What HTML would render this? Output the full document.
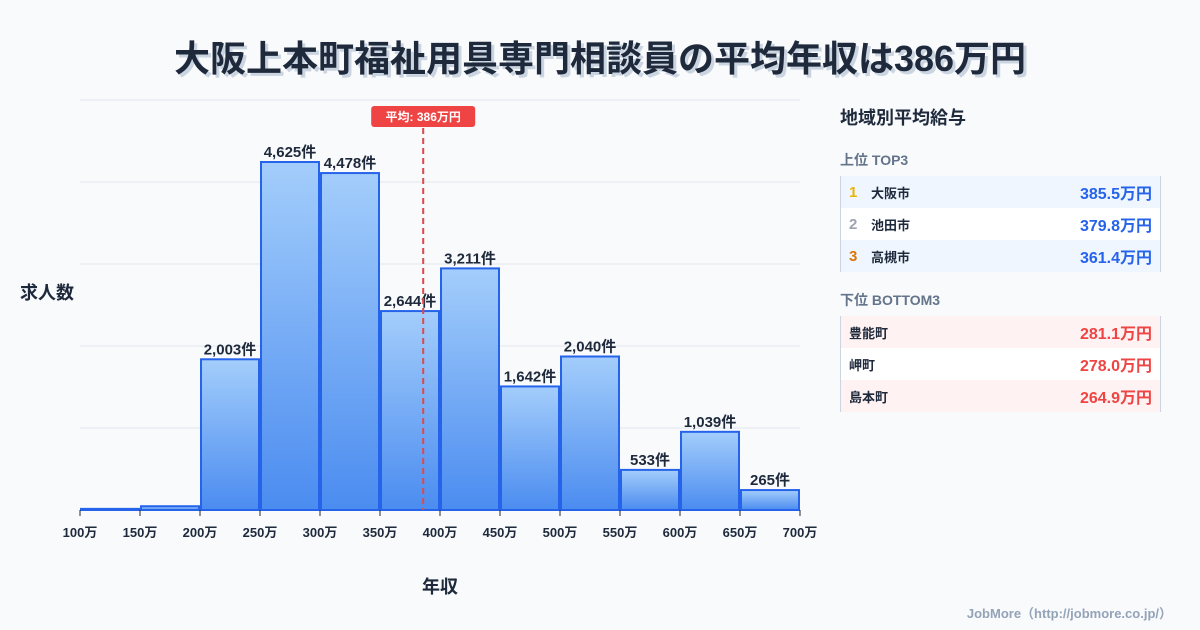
<!DOCTYPE html>
<html><head><meta charset="utf-8"><style>
body{margin:0;width:1200px;height:630px;background:#f8fafc;font-family:"Liberation Sans","Noto Sans CJK JP",sans-serif;overflow:hidden;position:relative}
.t{position:absolute;left:0;width:1200px;top:30px;text-align:center;font-size:36px;font-weight:bold;color:#1e293b;text-shadow:3px 3px 0 #cbd5e1}
.panel{position:absolute;left:840px;width:321px}
.row{height:32px;display:flex;align-items:center;font-size:13px;font-weight:bold;color:#1e293b;border-right:1px solid #cbd5e1;border-left:1px solid #cbd5e1;box-sizing:border-box;padding:0 8px}
.row .v{margin-left:auto;font-size:16px}
</style></head><body>
<div class="t">大阪上本町福祉用具専門相談員の平均年収は386万円</div>
<svg width="1200" height="630" style="position:absolute;left:0;top:0" id="svg"></svg>
<div class="panel" style="top:104px;font-size:18px;font-weight:bold;color:#1e293b">地域別平均給与</div>
<div class="panel" style="top:150px;font-size:14px;font-weight:bold;color:#64748b">上位 TOP3</div>
<div class="panel" style="top:176px">
<div class="row" style="background:#eff6ff"><span style="color:#eab308;width:22px;font-size:15px">1</span>大阪市<span class="v" style="color:#2563eb">385.5万円</span></div>
<div class="row" style="background:#fff"><span style="color:#9ca3af;width:22px;font-size:15px">2</span>池田市<span class="v" style="color:#2563eb">379.8万円</span></div>
<div class="row" style="background:#eff6ff"><span style="color:#d97706;width:22px;font-size:15px">3</span>高槻市<span class="v" style="color:#2563eb">361.4万円</span></div>
</div>
<div class="panel" style="top:290px;font-size:14px;font-weight:bold;color:#64748b">下位 BOTTOM3</div>
<div class="panel" style="top:316px">
<div class="row" style="background:#fef2f2">豊能町<span class="v" style="color:#ef4444">281.1万円</span></div>
<div class="row" style="background:#fff">岬町<span class="v" style="color:#ef4444">278.0万円</span></div>
<div class="row" style="background:#fef2f2">島本町<span class="v" style="color:#ef4444">264.9万円</span></div>
</div>
<div style="position:absolute;right:28px;top:603px;font-size:13px;font-weight:bold;color:#94a3b8">JobMore（http://jobmore.co.jp/）</div>
<script>
const binStarts=[100,150,200,250,300,350,400,450,500,550,600,650];
const counts=[15,50,2003,4625,4478,2644,3211,1642,2040,533,1039,265];
const labels=["","","2,003件","4,625件","4,478件","2,644件","3,211件","1,642件","2,040件","533件","1,039件","265件"];
const tickVals=[100,150,200,250,300,350,400,450,500,550,600,650,700];
const meanVal=386;
const NS="http://www.w3.org/2000/svg",svg=document.getElementById('svg');
const X=v=>80+(v-100)*720/600, base=510, Y=c=>base-c*348/4625;
function mk(t,a,txt){const e=document.createElementNS(NS,t);for(const k in a)e.setAttribute(k,a[k]);if(txt!=null)e.textContent=txt;svg.appendChild(e);return e;}
const defs=mk('defs',{});defs.innerHTML='<linearGradient id="g" x1="0" y1="0" x2="0" y2="1"><stop offset="0" stop-color="#a3cdfb"/><stop offset="1" stop-color="#4b8cf0"/></linearGradient>';
for(let i=0;i<6;i++){const l=mk('line',{x1:80,x2:800,y1:base-i*82,y2:base-i*82,stroke:'#e2e8f0'});}
binStarts.forEach((s,i)=>{const x0=X(s)+1,x1=X(s+50)-1,y=Y(counts[i]);
const r=mk('rect',{x:x0,y:y,width:x1-x0,height:Math.max(base-y,1),fill:'url(#g)',stroke:'#2563eb','stroke-width':2});

if(labels[i]){const t=mk('text',{x:(x0+x1)/2,y:y-5,'text-anchor':'middle','font-size':15,'font-weight':'bold',fill:'#1e293b'},labels[i]);
}});
tickVals.forEach(v=>{const l=mk('line',{x1:X(v),x2:X(v),y1:base,y2:base+6,stroke:'#1e293b'});
const t=mk('text',{x:X(v),y:537,'text-anchor':'middle','font-size':13,'font-weight':'bold',fill:'#1e293b'},v+'万');});
const mx=X(meanVal);
const ml=mk('line',{x1:mx,x2:mx,y1:128,y2:base,stroke:'#dc4a4a','stroke-width':2,'stroke-dasharray':'6,4'});
const mb=mk('rect',{x:mx-52,y:106,width:104,height:21,rx:3,fill:'#ef4444'});
const mt=mk('text',{x:mx,y:121,'text-anchor':'middle','font-size':12,'font-weight':'bold',fill:'#fff'},'平均: '+meanVal+'万円');
const yt=mk('text',{x:20,y:299,'font-size':18,'font-weight':'bold',fill:'#1e293b'},'求人数');
const xt=mk('text',{x:440,y:593,'text-anchor':'middle','font-size':18,'font-weight':'bold',fill:'#1e293b'},'年収');
</script>
</body></html>
